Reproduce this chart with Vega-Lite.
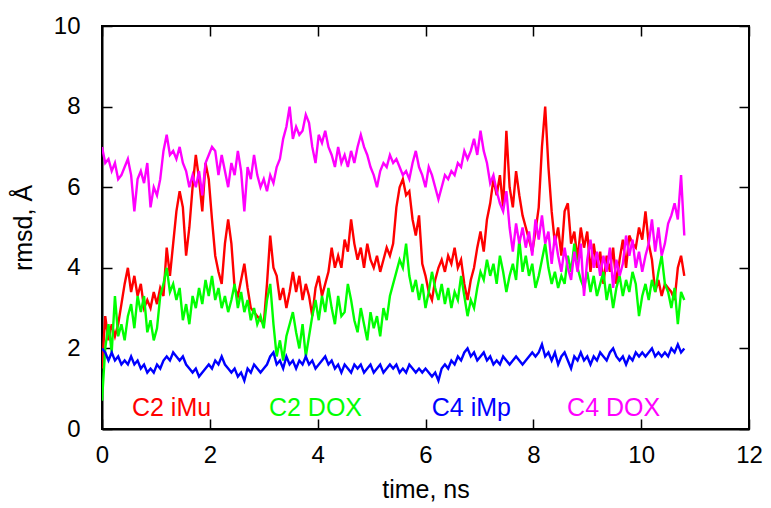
{
  "$schema": "https://vega.github.io/schema/vega-lite/v6.json",
  "width": 647,
  "height": 403,
  "autosize": {"type": "none"},
  "padding": {"left": 102, "top": 26, "right": 22, "bottom": 79},
  "background": "white",
  "config": {
    "view": {"stroke": "black", "strokeWidth": 2},
    "axis": {
      "grid": false,
      "domainColor": "black",
      "domainWidth": 2,
      "tickColor": "black",
      "tickWidth": 1.5,
      "tickSize": -10,
      "labelFont": "Liberation Sans",
      "labelFontSize": 24,
      "labelColor": "black",
      "titleFont": "Liberation Sans",
      "titleFontSize": 25,
      "titleFontWeight": "normal",
      "titleColor": "black"
    }
  },
  "datasets": {
    "rmsd": [
      {"t":0,"r":1.5,"g":0.7,"b":2.0,"m":7.0},
      {"t":0.06,"r":2.8,"g":2.0,"b":1.9,"m":6.6},
      {"t":0.12,"r":2.2,"g":2.6,"b":1.7,"m":6.7},
      {"t":0.18,"r":2.6,"g":1.9,"b":1.9,"m":6.4},
      {"t":0.24,"r":2.3,"g":3.3,"b":1.7,"m":6.6},
      {"t":0.3,"r":2.6,"g":2.3,"b":1.8,"m":6.2},
      {"t":0.36,"r":3.1,"g":2.6,"b":1.6,"m":6.3},
      {"t":0.42,"r":3.6,"g":2.2,"b":1.7,"m":6.5},
      {"t":0.48,"r":4.0,"g":2.8,"b":1.6,"m":6.7},
      {"t":0.54,"r":3.4,"g":3.1,"b":1.8,"m":6.3},
      {"t":0.6,"r":3.8,"g":2.5,"b":1.6,"m":5.4},
      {"t":0.66,"r":3.3,"g":3.3,"b":1.7,"m":6.2},
      {"t":0.72,"r":3.6,"g":2.9,"b":1.5,"m":6.4},
      {"t":0.78,"r":3.0,"g":3.3,"b":1.6,"m":6.1},
      {"t":0.84,"r":3.2,"g":2.4,"b":1.4,"m":6.6},
      {"t":0.9,"r":3.0,"g":2.7,"b":1.5,"m":5.5},
      {"t":0.96,"r":3.4,"g":2.2,"b":1.4,"m":6.0},
      {"t":1.02,"r":3.1,"g":2.5,"b":1.6,"m":5.8},
      {"t":1.08,"r":3.5,"g":3.3,"b":1.5,"m":6.2},
      {"t":1.14,"r":3.3,"g":3.6,"b":1.7,"m":6.9},
      {"t":1.2,"r":4.5,"g":4.0,"b":1.8,"m":7.3},
      {"t":1.26,"r":3.8,"g":3.4,"b":1.7,"m":6.8},
      {"t":1.32,"r":4.6,"g":3.6,"b":1.9,"m":6.9},
      {"t":1.38,"r":5.4,"g":3.2,"b":1.8,"m":6.7},
      {"t":1.44,"r":5.9,"g":3.5,"b":1.7,"m":7.0},
      {"t":1.5,"r":5.5,"g":2.7,"b":1.8,"m":6.6},
      {"t":1.56,"r":4.3,"g":3.1,"b":1.6,"m":6.4},
      {"t":1.62,"r":5.0,"g":2.6,"b":1.5,"m":6.0},
      {"t":1.68,"r":6.0,"g":3.3,"b":1.4,"m":6.3},
      {"t":1.74,"r":6.8,"g":3.0,"b":1.5,"m":6.0},
      {"t":1.8,"r":6.2,"g":3.5,"b":1.3,"m":6.4},
      {"t":1.86,"r":5.4,"g":3.1,"b":1.4,"m":5.8},
      {"t":1.92,"r":6.6,"g":3.7,"b":1.5,"m":6.6},
      {"t":1.98,"r":6.2,"g":3.3,"b":1.6,"m":6.8},
      {"t":2.04,"r":5.2,"g":3.8,"b":1.5,"m":7.0},
      {"t":2.1,"r":4.3,"g":3.2,"b":1.7,"m":6.9},
      {"t":2.16,"r":3.9,"g":3.5,"b":1.6,"m":6.3},
      {"t":2.22,"r":3.6,"g":3.0,"b":1.8,"m":6.8},
      {"t":2.28,"r":4.6,"g":3.3,"b":1.6,"m":6.4},
      {"t":2.34,"r":5.2,"g":2.9,"b":1.5,"m":6.0},
      {"t":2.4,"r":4.6,"g":3.2,"b":1.4,"m":6.6},
      {"t":2.46,"r":3.5,"g":3.6,"b":1.5,"m":6.3},
      {"t":2.52,"r":3.3,"g":3.0,"b":1.3,"m":6.9},
      {"t":2.58,"r":3.7,"g":3.4,"b":1.4,"m":6.4},
      {"t":2.64,"r":4.1,"g":2.9,"b":1.2,"m":5.4},
      {"t":2.7,"r":3.5,"g":3.2,"b":1.5,"m":6.5},
      {"t":2.76,"r":3.0,"g":2.7,"b":1.4,"m":6.2},
      {"t":2.82,"r":2.9,"g":3.0,"b":1.6,"m":6.8},
      {"t":2.88,"r":2.8,"g":2.6,"b":1.5,"m":6.3},
      {"t":2.94,"r":2.7,"g":2.8,"b":1.4,"m":6.0},
      {"t":3.0,"r":2.6,"g":2.5,"b":1.5,"m":6.2},
      {"t":3.06,"r":3.6,"g":3.2,"b":1.6,"m":5.9},
      {"t":3.12,"r":4.8,"g":3.6,"b":1.8,"m":6.3},
      {"t":3.18,"r":4.0,"g":2.6,"b":1.9,"m":6.1},
      {"t":3.24,"r":3.8,"g":1.8,"b":1.6,"m":6.5},
      {"t":3.3,"r":3.2,"g":2.2,"b":1.7,"m":6.7},
      {"t":3.36,"r":3.5,"g":1.7,"b":1.5,"m":7.2},
      {"t":3.42,"r":3.0,"g":2.3,"b":1.8,"m":7.5},
      {"t":3.48,"r":3.4,"g":2.6,"b":1.6,"m":8.0},
      {"t":3.54,"r":3.9,"g":2.9,"b":1.7,"m":7.2},
      {"t":3.6,"r":3.4,"g":2.4,"b":1.5,"m":7.5},
      {"t":3.66,"r":3.8,"g":2.0,"b":1.7,"m":7.3},
      {"t":3.72,"r":3.2,"g":2.6,"b":1.6,"m":7.4},
      {"t":3.78,"r":3.6,"g":1.8,"b":1.8,"m":7.8},
      {"t":3.84,"r":3.3,"g":2.3,"b":1.6,"m":7.6},
      {"t":3.9,"r":2.8,"g":2.8,"b":1.7,"m":7.0},
      {"t":3.96,"r":3.5,"g":3.2,"b":1.5,"m":6.6},
      {"t":4.02,"r":3.8,"g":2.7,"b":1.6,"m":7.3},
      {"t":4.08,"r":3.3,"g":3.3,"b":1.7,"m":7.1},
      {"t":4.14,"r":3.6,"g":2.9,"b":1.8,"m":7.4},
      {"t":4.2,"r":3.9,"g":3.5,"b":1.6,"m":7.0},
      {"t":4.26,"r":4.5,"g":3.0,"b":1.7,"m":6.8},
      {"t":4.32,"r":4.0,"g":2.6,"b":1.5,"m":6.5},
      {"t":4.38,"r":4.3,"g":3.3,"b":1.6,"m":7.0},
      {"t":4.44,"r":4.0,"g":2.8,"b":1.4,"m":6.6},
      {"t":4.5,"r":4.7,"g":2.9,"b":1.6,"m":6.8},
      {"t":4.56,"r":4.4,"g":3.6,"b":1.5,"m":6.5},
      {"t":4.62,"r":5.2,"g":3.2,"b":1.4,"m":6.9},
      {"t":4.68,"r":4.6,"g":2.7,"b":1.6,"m":6.6},
      {"t":4.74,"r":4.2,"g":2.4,"b":1.5,"m":7.0},
      {"t":4.8,"r":4.5,"g":3.0,"b":1.6,"m":7.3},
      {"t":4.86,"r":4.0,"g":2.6,"b":1.4,"m":7.0},
      {"t":4.92,"r":4.6,"g":2.2,"b":1.5,"m":6.8},
      {"t":4.98,"r":4.2,"g":2.9,"b":1.6,"m":6.5},
      {"t":5.04,"r":4.0,"g":2.5,"b":1.4,"m":6.3},
      {"t":5.1,"r":4.3,"g":2.8,"b":1.5,"m":6.0},
      {"t":5.16,"r":3.9,"g":2.3,"b":1.6,"m":6.4},
      {"t":5.22,"r":4.2,"g":3.0,"b":1.4,"m":6.6},
      {"t":5.28,"r":4.5,"g":2.7,"b":1.5,"m":6.5},
      {"t":5.34,"r":4.3,"g":3.3,"b":1.6,"m":6.8},
      {"t":5.4,"r":4.6,"g":3.6,"b":1.5,"m":6.6},
      {"t":5.46,"r":5.5,"g":3.9,"b":1.6,"m":6.7},
      {"t":5.52,"r":6.0,"g":4.2,"b":1.4,"m":6.5},
      {"t":5.58,"r":6.2,"g":4.0,"b":1.5,"m":6.3},
      {"t":5.64,"r":5.8,"g":4.6,"b":1.4,"m":6.4},
      {"t":5.7,"r":5.9,"g":3.8,"b":1.6,"m":6.2},
      {"t":5.76,"r":5.2,"g":3.4,"b":1.5,"m":6.6},
      {"t":5.82,"r":4.8,"g":3.7,"b":1.4,"m":6.9},
      {"t":5.88,"r":5.3,"g":3.2,"b":1.5,"m":6.5},
      {"t":5.94,"r":4.1,"g":3.6,"b":1.4,"m":6.3},
      {"t":6.0,"r":3.8,"g":3.0,"b":1.5,"m":6.0},
      {"t":6.06,"r":3.4,"g":3.4,"b":1.4,"m":6.5},
      {"t":6.12,"r":3.2,"g":3.9,"b":1.3,"m":6.3},
      {"t":6.18,"r":3.7,"g":3.5,"b":1.4,"m":6.0},
      {"t":6.24,"r":4.0,"g":3.2,"b":1.2,"m":5.7},
      {"t":6.3,"r":4.2,"g":3.6,"b":1.5,"m":6.0},
      {"t":6.36,"r":3.9,"g":3.1,"b":1.6,"m":6.3},
      {"t":6.42,"r":4.3,"g":3.5,"b":1.5,"m":6.2},
      {"t":6.48,"r":4.1,"g":3.0,"b":1.7,"m":6.4},
      {"t":6.54,"r":4.5,"g":3.4,"b":1.6,"m":6.3},
      {"t":6.6,"r":4.0,"g":3.2,"b":1.8,"m":6.6},
      {"t":6.66,"r":4.2,"g":3.8,"b":1.7,"m":6.5},
      {"t":6.72,"r":3.6,"g":3.3,"b":1.9,"m":6.9},
      {"t":6.78,"r":3.2,"g":2.8,"b":2.0,"m":6.7},
      {"t":6.84,"r":3.7,"g":3.2,"b":1.8,"m":6.9},
      {"t":6.9,"r":4.0,"g":3.0,"b":1.9,"m":7.2},
      {"t":6.96,"r":4.5,"g":3.5,"b":1.7,"m":6.8},
      {"t":7.02,"r":4.9,"g":3.9,"b":1.8,"m":7.4},
      {"t":7.08,"r":4.4,"g":3.7,"b":1.9,"m":6.9},
      {"t":7.14,"r":5.2,"g":4.2,"b":1.7,"m":6.6},
      {"t":7.2,"r":5.6,"g":3.8,"b":1.8,"m":6.1},
      {"t":7.26,"r":6.2,"g":4.1,"b":1.6,"m":6.3},
      {"t":7.32,"r":5.8,"g":3.6,"b":1.7,"m":5.9},
      {"t":7.38,"r":6.3,"g":4.3,"b":1.6,"m":5.6},
      {"t":7.44,"r":5.5,"g":3.9,"b":1.8,"m":5.4},
      {"t":7.5,"r":7.4,"g":3.4,"b":1.7,"m":5.9},
      {"t":7.56,"r":6.0,"g":3.8,"b":1.6,"m":5.0},
      {"t":7.62,"r":5.5,"g":4.1,"b":1.7,"m":4.4},
      {"t":7.68,"r":6.4,"g":3.7,"b":1.8,"m":5.1},
      {"t":7.74,"r":5.8,"g":4.7,"b":1.7,"m":4.6},
      {"t":7.8,"r":5.3,"g":3.9,"b":1.6,"m":5.0},
      {"t":7.86,"r":5.0,"g":4.3,"b":1.7,"m":4.5},
      {"t":7.92,"r":4.7,"g":3.8,"b":1.8,"m":4.9},
      {"t":7.98,"r":4.4,"g":4.1,"b":1.9,"m":4.3},
      {"t":8.04,"r":4.9,"g":3.5,"b":1.8,"m":5.2},
      {"t":8.1,"r":5.5,"g":3.8,"b":1.9,"m":4.7},
      {"t":8.16,"r":7.0,"g":4.2,"b":2.1,"m":5.3},
      {"t":8.22,"r":8.0,"g":4.6,"b":1.8,"m":4.6},
      {"t":8.28,"r":6.5,"g":4.0,"b":1.9,"m":4.9},
      {"t":8.34,"r":5.4,"g":3.6,"b":1.7,"m":4.1},
      {"t":8.4,"r":4.6,"g":3.9,"b":1.9,"m":4.8},
      {"t":8.46,"r":5.0,"g":3.5,"b":1.6,"m":4.3},
      {"t":8.52,"r":4.3,"g":3.8,"b":1.8,"m":3.9},
      {"t":8.58,"r":5.4,"g":3.6,"b":1.9,"m":4.5},
      {"t":8.64,"r":5.6,"g":4.3,"b":1.7,"m":4.0},
      {"t":8.7,"r":4.6,"g":3.9,"b":1.5,"m":3.7},
      {"t":8.76,"r":4.9,"g":4.6,"b":1.8,"m":4.4},
      {"t":8.82,"r":4.2,"g":4.0,"b":1.7,"m":3.9},
      {"t":8.88,"r":5.0,"g":3.7,"b":1.9,"m":4.6},
      {"t":8.94,"r":4.5,"g":3.5,"b":1.7,"m":3.3},
      {"t":9.0,"r":4.9,"g":3.9,"b":1.8,"m":4.2},
      {"t":9.06,"r":3.9,"g":3.4,"b":1.6,"m":4.7},
      {"t":9.12,"r":4.6,"g":3.8,"b":1.8,"m":4.0},
      {"t":9.18,"r":4.0,"g":3.3,"b":1.7,"m":4.4},
      {"t":9.24,"r":4.4,"g":3.6,"b":1.9,"m":3.8},
      {"t":9.3,"r":3.6,"g":3.9,"b":1.8,"m":4.3},
      {"t":9.36,"r":4.3,"g":3.2,"b":1.7,"m":3.9},
      {"t":9.42,"r":3.9,"g":3.6,"b":1.9,"m":4.5},
      {"t":9.48,"r":4.5,"g":3.0,"b":2.0,"m":3.5},
      {"t":9.54,"r":3.6,"g":3.5,"b":1.8,"m":4.2},
      {"t":9.6,"r":4.2,"g":3.8,"b":1.7,"m":3.8},
      {"t":9.66,"r":4.7,"g":3.3,"b":1.8,"m":4.1},
      {"t":9.72,"r":4.0,"g":3.7,"b":1.6,"m":4.8},
      {"t":9.78,"r":4.8,"g":3.4,"b":1.8,"m":4.3},
      {"t":9.84,"r":4.6,"g":3.9,"b":1.7,"m":4.7},
      {"t":9.9,"r":4.5,"g":3.6,"b":1.9,"m":4.0},
      {"t":9.96,"r":5.0,"g":2.8,"b":1.8,"m":4.4},
      {"t":10.02,"r":4.7,"g":3.3,"b":1.9,"m":3.9},
      {"t":10.08,"r":5.4,"g":3.6,"b":1.8,"m":4.3},
      {"t":10.14,"r":4.6,"g":3.2,"b":1.9,"m":4.6},
      {"t":10.2,"r":4.2,"g":3.7,"b":2.0,"m":5.2},
      {"t":10.26,"r":3.4,"g":3.4,"b":1.8,"m":4.4},
      {"t":10.32,"r":3.7,"g":3.9,"b":1.9,"m":5.0},
      {"t":10.38,"r":3.3,"g":4.3,"b":1.8,"m":4.3},
      {"t":10.44,"r":3.6,"g":3.6,"b":1.9,"m":4.6},
      {"t":10.5,"r":3.5,"g":3.4,"b":1.8,"m":5.1},
      {"t":10.56,"r":3.4,"g":3.0,"b":2.0,"m":5.3},
      {"t":10.62,"r":3.2,"g":3.5,"b":1.9,"m":5.6},
      {"t":10.68,"r":4.0,"g":2.6,"b":2.1,"m":5.2},
      {"t":10.74,"r":4.3,"g":3.4,"b":1.9,"m":6.3},
      {"t":10.8,"r":3.8,"g":3.2,"b":2.0,"m":4.8}
    ],
    "labels": [
      {"t":1.29,"v":0.53,"k":"r","label":"C2 iMu"},
      {"t":3.96,"v":0.53,"k":"g","label":"C2 DOX"},
      {"t":6.85,"v":0.53,"k":"b","label":"C4 iMp"},
      {"t":9.49,"v":0.53,"k":"m","label":"C4 DOX"}
    ]
  },
  "layer": [
    {
      "data": {"name": "rmsd"},
      "transform": [{"fold": ["r", "g", "b", "m"], "as": ["k", "rmsd"]}],
      "mark": {"type": "line", "strokeWidth": 2.4, "clip": true},
      "encoding": {
        "x": {
          "field": "t", "type": "quantitative",
          "scale": {"domain": [0, 12], "nice": false, "zero": false},
          "axis": {"orient": "bottom", "values": [0, 2, 4, 6, 8, 10, 12], "title": "time, ns", "labelPadding": 24, "titlePadding": 10, "labelFlush": false}
        },
        "y": {
          "field": "rmsd", "type": "quantitative",
          "scale": {"domain": [0, 10], "nice": false},
          "axis": {"orient": "left", "values": [0, 2, 4, 6, 8, 10], "title": "rmsd, Å", "labelPadding": 32, "titlePadding": 17, "labelFlush": false}
        },
        "color": {
          "field": "k", "type": "nominal",
          "scale": {"domain": ["r", "g", "b", "m"], "range": ["#ff0000", "#00ff00", "#0000ff", "#ff00ff"]},
          "legend": null
        }
      }
    },
    {
      "data": {"name": "labels"},
      "mark": {"type": "text", "fontSize": 25, "font": "Liberation Sans", "align": "center", "baseline": "middle"},
      "encoding": {
        "x": {
          "field": "t", "type": "quantitative",
          "scale": {"domain": [0, 12], "nice": false, "zero": false},
          "axis": {"orient": "top", "values": [0, 2, 4, 6, 8, 10, 12], "labels": false, "title": null, "domain": false}
        },
        "y": {
          "field": "v", "type": "quantitative",
          "scale": {"domain": [0, 10], "nice": false},
          "axis": {"orient": "right", "values": [0, 2, 4, 6, 8, 10], "labels": false, "title": null, "domain": false}
        },
        "color": {"field": "k", "type": "nominal", "legend": null},
        "text": {"field": "label"}
      }
    }
  ],
  "resolve": {"axis": {"x": "independent", "y": "independent"}}
}
